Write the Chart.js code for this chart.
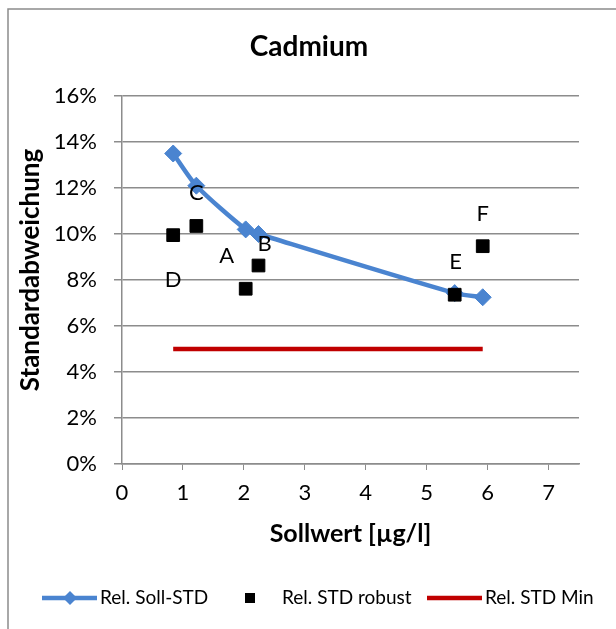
<!DOCTYPE html>
<html lang="de">
<head>
    <meta charset="UTF-8" />
    <title>Cadmium</title>
    <script src="https://cdn.jsdelivr.net/npm/chart.js"></script>
    <style>
        body { margin: 0; background: #fff; }
        #chartContainer { width: 616px; height: 629px; position: relative; }
    </style>
</head>
<body>

<div id="chartContainer">
    <canvas id="myChart"></canvas>
</div>

<script>
    // Sollwerte (µg/l) of the six samples
    const sollwert = [0.84, 1.22, 2.03, 2.24, 5.46, 5.92];
    // relative standard deviations in %
    const relSollStd = [13.5, 12.1, 10.2, 10.0, 7.43, 7.25];
    const relStdRobust = [9.95, 10.35, 7.62, 8.63, 7.36, 9.47];
    const relStdMin = [5, 5, 5, 5, 5, 5];
    const sampleNames = ['D', 'C', 'A', 'B', 'E', 'F'];
    const xTicks = [0, 1, 2, 3, 4, 5, 6, 7];
    const yTicks = [0, 2, 4, 6, 8, 10, 12, 14, 16];

    const FONT = 'Lato, "Open Sans", sans-serif';
    const BLUE = '#4A84D0';
    const RED = '#C00000';
    const GRID = '#8C8C8C';

    const toPoints = ys => sollwert.map((x, i) => ({ x: x, y: ys[i] }));

    // label offsets (px) relative to each robust point
    const labelShift = [[0, 45], [0, -33], [-19, -33], [6, -22], [1, -33], [0, -32]];

    const extras = {
        id: 'extras',
        afterDraw(chart) {
            const ctx = chart.ctx;
            ctx.save();

            // outer frame
            ctx.strokeStyle = GRID;
            ctx.lineWidth = 1.5;
            ctx.beginPath();
            ctx.moveTo(8, 629);
            ctx.lineTo(8, 9);
            ctx.lineTo(616, 9);
            ctx.stroke();

            // title
            ctx.fillStyle = '#000';
            ctx.textAlign = 'center';
            ctx.textBaseline = 'middle';
            ctx.font = 'bold 28px ' + FONT;
            ctx.fillText('Cadmium', 309, 47);

            // y axis title
            ctx.save();
            ctx.translate(31, 270);
            ctx.rotate(-Math.PI / 2);
            ctx.font = 'bold 26px ' + FONT;
            ctx.fillText('Standardabweichung', 0, 0);
            ctx.restore();

            // sample letters
            const meta = chart.getDatasetMeta(1);
            ctx.font = '22px ' + FONT;
            meta.data.forEach((pt, i) => {
                ctx.fillText(sampleNames[i], pt.x + labelShift[i][0], pt.y + labelShift[i][1]);
            });

            // legend
            const ly = 598;
            ctx.textAlign = 'left';
            ctx.font = '19px ' + FONT;

            ctx.strokeStyle = BLUE;
            ctx.lineWidth = 4.5;
            ctx.beginPath();
            ctx.moveTo(42, ly);
            ctx.lineTo(97, ly);
            ctx.stroke();
            ctx.fillStyle = BLUE;
            ctx.beginPath();
            ctx.moveTo(70, ly - 7);
            ctx.lineTo(77, ly);
            ctx.lineTo(70, ly + 7);
            ctx.lineTo(63, ly);
            ctx.closePath();
            ctx.fill();
            ctx.fillStyle = '#000';
            ctx.fillText('Rel. Soll-STD', 100, ly);

            ctx.fillRect(245, ly - 5, 10, 10);
            ctx.fillText('Rel. STD robust', 282, ly);

            ctx.strokeStyle = RED;
            ctx.beginPath();
            ctx.moveTo(427, ly);
            ctx.lineTo(482, ly);
            ctx.stroke();
            ctx.fillText('Rel. STD Min', 485, ly);

            ctx.restore();
        }
    };

    const ctx = document.getElementById('myChart').getContext('2d');

    new Chart(ctx, {
        type: 'scatter',
        data: {
            datasets: [
                {
                    label: 'Rel. Soll-STD',
                    data: toPoints(relSollStd),
                    showLine: true,
                    borderColor: BLUE,
                    backgroundColor: BLUE,
                    borderWidth: 4.5,
                    tension: 0.25,
                    pointStyle: 'rectRot',
                    pointRadius: 8.5,
                    pointBorderWidth: 1,
                    pointBorderColor: BLUE,
                    pointBackgroundColor: BLUE,
                    order: 1
                },
                {
                    label: 'Rel. STD robust',
                    data: toPoints(relStdRobust),
                    showLine: false,
                    pointStyle: 'rect',
                    pointRadius: 9,
                    pointBorderWidth: 1,
                    pointBorderColor: '#000',
                    pointBackgroundColor: '#000',
                    order: 0
                },
                {
                    label: 'Rel. STD Min',
                    data: toPoints(relStdMin),
                    showLine: true,
                    borderColor: RED,
                    borderWidth: 4.5,
                    pointRadius: 0,
                    order: 2
                }
            ]
        },
        options: {
            responsive: true,
            maintainAspectRatio: false,
            animation: false,
            layout: { padding: { left: 8, right: 37, top: 96, bottom: 80 } },
            plugins: {
                legend: { display: false },
                title: { display: false },
                tooltip: { enabled: false }
            },
            scales: {
                x: {
                    type: 'linear',
                    min: 0,
                    max: 7.5,
                    afterFit: s => { s.height = 85; },
                    afterBuildTicks: s => { s.ticks = xTicks.map(v => ({ value: v })); },
                    ticks: {
                        padding: 10,
                        color: '#000',
                        font: { family: FONT, size: 22 }
                    },
                    grid: { drawOnChartArea: false, tickLength: 6, color: GRID },
                    border: { color: GRID, width: 1.5 },
                    title: {
                        display: true,
                        text: 'Sollwert [µg/l]',
                        color: '#000',
                        padding: { top: 0, bottom: 0 },
                        font: { family: FONT, size: 25, weight: 'bold' }
                    }
                },
                y: {
                    min: 0,
                    max: 16,
                    afterFit: s => { s.width = 114; },
                    afterBuildTicks: s => { s.ticks = yTicks.map(v => ({ value: v })); },
                    ticks: {
                        padding: 17,
                        color: '#000',
                        font: { family: FONT, size: 22 },
                        callback: v => v + '%'
                    },
                    grid: { color: GRID, tickLength: 8, lineWidth: 1.5 },
                    border: { color: GRID, width: 1.5 },
                    title: { display: false }
                }
            }
        },
        plugins: [extras]
    });
</script>

</body>
</html>
